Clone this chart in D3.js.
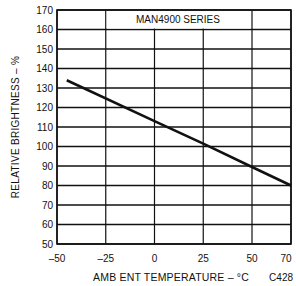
<!DOCTYPE html>
<html>
<head>
<meta charset="utf-8">
<script src="https://cdn.jsdelivr.net/npm/d3@7"></script>
<style>
  body { margin: 0; background: #fff; }
  text { font-family: "Liberation Sans", Arial, sans-serif; fill: #111; }
</style>
</head>
<body>
<div id="chart"></div>
<script>
// values
const temps = [-45, 0, 25, 50, 70];
const brightness = [134, 113, 101.5, 89.5, 80];

const xTicks = [-50, -25, 0, 25, 50, 70];
const yTicks = [50, 60, 70, 80, 90, 100, 110, 120, 130, 140, 150, 160, 170];

const width = 296, height = 286;
const plotL = 57, plotR = 291, plotT = 10, plotB = 244;

const svg = d3.select("#chart").append("svg")
    .attr("width", width)
    .attr("height", height);

const x = d3.scaleLinear().domain([-50, 70]).range([plotL, plotR]);
const y = d3.scaleLinear().domain([50, 170]).range([plotB, plotT]);

// horizontal grid
svg.append("g")
    .selectAll("line")
    .data(yTicks)
    .join("line")
    .attr("x1", plotL)
    .attr("x2", plotR)
    .attr("y1", d => y(d))
    .attr("y2", d => y(d))
    .attr("stroke", "#111")
    .attr("stroke-width", 1.6);

// vertical grid
svg.append("g")
    .selectAll("line")
    .data(xTicks)
    .join("line")
    .attr("x1", d => x(d))
    .attr("x2", d => x(d))
    .attr("y1", plotT)
    .attr("y2", plotB)
    .attr("stroke", "#111")
    .attr("stroke-width", 1.2);

// series label box, covers grid in the top band
svg.append("rect")
    .attr("x", x(-25) + 1)
    .attr("y", y(170) + 1)
    .attr("width", x(50) - x(-25) - 2)
    .attr("height", y(160) - y(170) - 2)
    .attr("fill", "#fff");

svg.append("text")
    .attr("x", 178)
    .attr("y", y(165) + 3.5)
    .attr("text-anchor", "middle")
    .style("font-size", "10px")
    .text("MAN4900 SERIES");

// border
svg.append("rect")
    .attr("x", plotL)
    .attr("y", plotT)
    .attr("width", plotR - plotL)
    .attr("height", plotB - plotT)
    .attr("fill", "none")
    .attr("stroke", "#111")
    .attr("stroke-width", 1.6);

// curve
const pts = temps.map((t, i) => [t, brightness[i]]);
svg.append("path")
    .datum(pts)
    .attr("d", d3.line().x(d => x(d[0])).y(d => y(d[1])))
    .attr("fill", "none")
    .attr("stroke", "#111")
    .attr("stroke-width", 2.6);

// tick labels
svg.append("g")
    .selectAll("text")
    .data(yTicks)
    .join("text")
    .attr("x", 53)
    .attr("y", d => y(d) + 3.6)
    .attr("text-anchor", "end")
    .style("font-size", "10px")
    .text(d => d);

svg.append("g")
    .selectAll("text")
    .data(xTicks)
    .join("text")
    .attr("x", d => d === 70 ? x(d) - 5 : x(d))
    .attr("y", 262)
    .attr("text-anchor", "middle")
    .style("font-size", "10px")
    .text(d => d < 0 ? "\u2013" + Math.abs(d) : d);

// axis titles
svg.append("text")
    .attr("x", 93)
    .attr("y", 281)
    .style("font-size", "10.5px")
    .style("letter-spacing", "0.2px")
    .text("AMB ENT TEMPERATURE \u2013 \u00B0C");

svg.append("text")
    .attr("x", 293)
    .attr("y", 281)
    .attr("text-anchor", "end")
    .style("font-size", "10px")
    .text("C428");

svg.append("text")
    .attr("transform", `translate(19, ${(plotT + plotB) / 2}) rotate(-90)`)
    .attr("text-anchor", "middle")
    .style("font-size", "10px")
    .style("letter-spacing", "0.3px")
    .text("RELATIVE BRIGHTNESS \u2013 %");
</script>
</body>
</html>
